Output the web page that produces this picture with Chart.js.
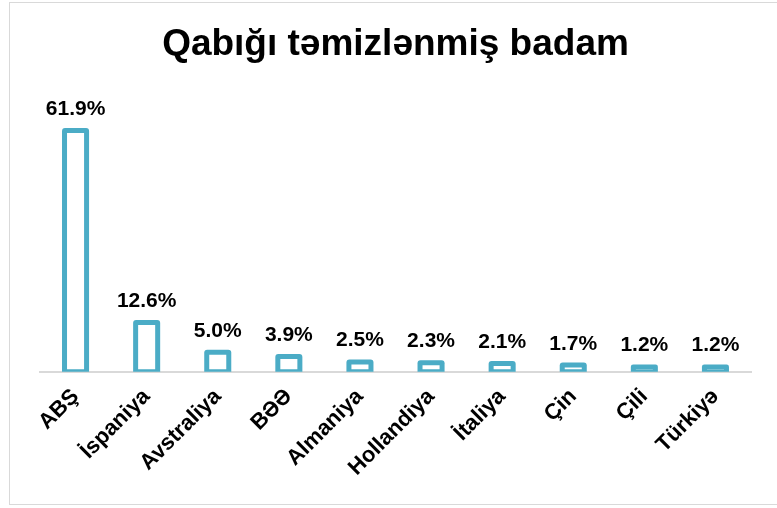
<!DOCTYPE html>
<html>
<head>
<meta charset="utf-8">
<script src="https://cdn.jsdelivr.net/npm/chart.js@4.4.1/dist/chart.umd.min.js"></script>
<style>
  html,body{margin:0;padding:0;background:#fff;overflow:hidden;}
  #wrap{position:relative;width:777px;height:508px;}
  #frame{position:absolute;left:9px;top:2px;width:800px;height:503px;border:1px solid #d9d9d9;box-sizing:border-box;}
  canvas{position:absolute;left:0;top:0;}
</style>
</head>
<body>
<div id="wrap">
  <div id="frame"></div>
  <canvas id="chart" width="777" height="508"></canvas>
</div>
<script>
// chart data
const countries = ["ABŞ","İspaniya","Avstraliya","BƏƏ","Almaniya","Hollandiya","İtaliya","Çin","Çili","Türkiyə"];
const shares = [61.9, 12.6, 5.0, 3.9, 2.5, 2.3, 2.1, 1.7, 1.2, 1.2];
const chartTitle = "Qabığı təmizlənmiş badam";

const FONT = "'Liberation Sans', Arial, sans-serif";
const BLUE = '#4bacc6';

// value labels above each bar
const valueLabels = {
  id:'valueLabels',
  afterDatasetsDraw(chart){
    const ctx = chart.ctx;
    const meta = chart.getDatasetMeta(0);
    ctx.save();
    ctx.font = "bold 21px " + FONT;
    ctx.fillStyle = '#000';
    ctx.textAlign = 'center';
    ctx.textBaseline = 'alphabetic';
    meta.data.forEach((bar, i)=>{
      ctx.fillText(shares[i].toFixed(1) + '%', bar.x, bar.y - 15.5);
    });
    ctx.restore();
  }
};

// outline look: blue bar grown by half the stroke, white bar shrunk by half the stroke
new Chart(document.getElementById('chart'), {
  type:'bar',
  data:{
    labels:countries,
    datasets:[
      {
        data:shares,
        backgroundColor:BLUE,
        borderWidth:0,
        borderRadius:3,
        inflateAmount:2.5,
        barPercentage:0.31,
        categoryPercentage:1,
        grouped:false,
        order:2
      },
      {
        data:shares,
        backgroundColor:'#ffffff',
        borderWidth:0,
        inflateAmount:-2.5,
        barPercentage:0.31,
        categoryPercentage:1,
        grouped:false,
        order:1
      }
    ]
  },
  options:{
    responsive:false,
    devicePixelRatio:1,
    animation:false,
    layout:{padding:{left:40,right:26,top:0,bottom:23}},
    plugins:{
      legend:{display:false},
      tooltip:{enabled:false},
      title:{
        display:true,
        text:chartTitle,
        color:'#000',
        font:{family:FONT,size:37,weight:'bold'},
        padding:{top:23,bottom:31.6}
      }
    },
    scales:{
      x:{
        grid:{display:false},
        border:{display:true,color:'#d9d9d9',width:2},
        ticks:{
          color:'#000',
          padding:4,
          font:{family:FONT,size:22,weight:'bold'},
          minRotation:45,maxRotation:45,autoSkip:false
        }
      },
      y:{display:false,min:0,max:70}
    }
  },
  plugins:[valueLabels]
});
</script>
</body>
</html>
